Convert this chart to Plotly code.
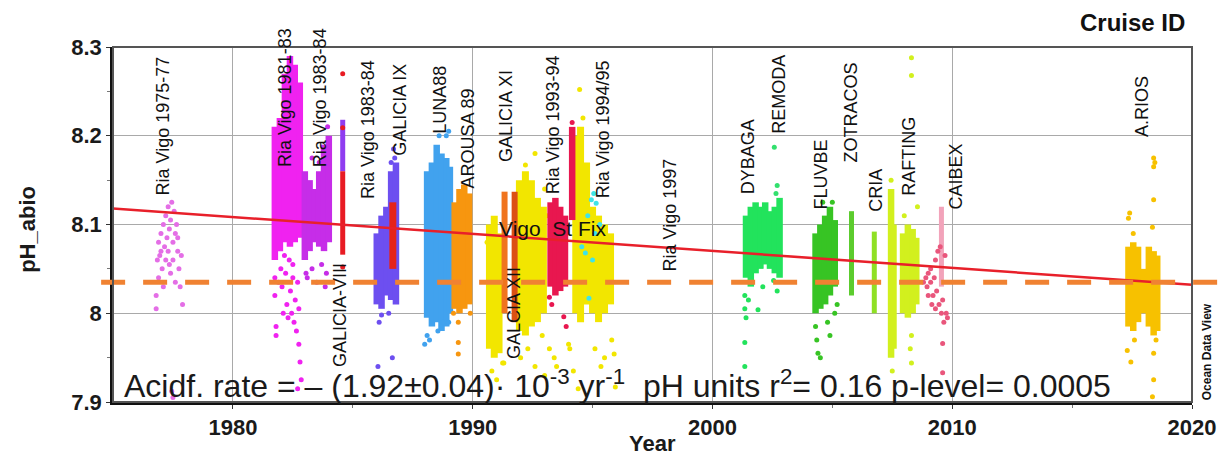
import plotly.graph_objects as go

# ---------------- data (year, pH_abio) ----------------
# Ria Vigo 1975-77
rv7577_px = [1976.8, 1976.8, 1976.85, 1976.9, 1976.9, 1977.0, 1977.0, 1977.05, 1977.1, 1977.1,
             1977.2, 1977.2, 1977.25, 1977.3, 1977.3, 1977.35, 1977.4, 1977.4, 1977.45, 1977.5,
             1977.5, 1977.55, 1977.6, 1977.6, 1977.65, 1977.7, 1977.75, 1977.8, 1977.85, 1977.9,
             1977.5, 1977.45, 1977.15, 1977.35, 1977.7, 1976.95]
rv7577_py = [8.02, 8.005, 8.06, 8.08, 8.04, 8.09, 8.07, 8.05, 8.10, 8.03,
             8.11, 8.06, 8.085, 8.12, 8.07, 8.095, 8.105, 8.045, 8.125, 8.08,
             8.06, 8.115, 8.09, 8.035, 8.10, 8.07, 8.05, 8.03, 8.065, 8.01,
             7.905, 7.912, 8.075, 8.055, 8.085, 8.065]

# Ria Vigo 1981-83
rv8183_cx = [1981.75, 1981.96, 1982.17, 1982.38, 1982.58, 1982.79]
rv8183_lo = [8.06, 8.07, 8.08, 8.075, 8.08, 8.085]
rv8183_hi = [8.21, 8.22, 8.27, 8.29, 8.28, 8.26]
rv8183_px = [1981.75, 1981.75, 1981.8, 1981.8, 1982.0, 1982.05, 1982.1, 1982.2, 1982.25, 1982.3,
             1982.35, 1982.4, 1982.45, 1982.5, 1982.55, 1982.6, 1982.7, 1982.75, 1982.75, 1982.8,
             1982.85, 1982.7, 1982.3, 1982.6, 1981.9, 1982.15, 1982.5, 1982.65]
rv8183_py = [8.04, 8.02, 7.985, 7.975, 8.05, 8.03, 8.0, 8.045, 8.01, 7.995,
             8.06, 8.025, 8.0, 8.04, 7.99, 8.015, 8.035, 8.005, 7.965, 7.945,
             7.925, 7.915, 8.245, 8.235, 8.035, 8.065, 8.055, 7.98]

# Ria Vigo 1983-84 (a)
rv8384a_cx = [1983.0, 1983.2, 1983.4, 1983.6, 1983.8, 1984.0]
rv8384a_lo = [8.06, 8.07, 8.08, 8.075, 8.07, 8.08]
rv8384a_hi = [8.16, 8.15, 8.14, 8.16, 8.19, 8.20]
rv8384a_px = [1983.1, 1983.3, 1983.5, 1983.7, 1983.9, 1983.95, 1983.3, 1983.6, 1983.05, 1983.85]
rv8384a_py = [8.04, 8.05, 8.035, 8.055, 8.045, 8.21, 8.175, 8.17, 8.045, 8.03]

# GALICIA-VIII
g8_cx = [1984.58]
g8_top_lo = [8.16]
g8_top_hi = [8.218]
g8_lo = [8.066]
g8_hi = [8.16]
g8_px = [1984.58, 1984.58, 1984.58]
g8_py = [8.27, 8.209, 8.052]

# Ria Vigo 1983-84 (b)
rv8384b_cx = [1986.0, 1986.2, 1986.4, 1986.6, 1986.8]
rv8384b_lo = [8.01, 8.005, 8.02, 8.015, 8.01]
rv8384b_hi = [8.09, 8.11, 8.12, 8.16, 8.17]
rv8384b_px = [1986.1, 1986.05, 1986.65, 1986.7, 1986.6, 1986.75, 1986.2, 1986.5]
rv8384b_py = [7.99, 7.94, 7.95, 8.185, 8.17, 8.175, 7.998, 8.0]

# GALICIA IX
g9_cx = [1986.67]
g9_lo = [8.05]
g9_hi = [8.125]

# LUNA88
luna_cx = [1988.1, 1988.3, 1988.5, 1988.7, 1988.9, 1989.05]
luna_lo = [7.995, 7.985, 7.99, 7.98, 7.985, 8.0]
luna_hi = [8.16, 8.17, 8.19, 8.18, 8.175, 8.165]
luna_px = [1988.1, 1988.2, 1988.0, 1988.55, 1989.0, 1988.9, 1989.0, 1988.6, 1988.75]
luna_py = [7.975, 7.97, 7.965, 7.98, 7.99, 8.2, 8.205, 8.2, 7.99]

# AROUSA 89
arousa_cx = [1989.25, 1989.45, 1989.65, 1989.85]
arousa_lo = [8.005, 8.0, 8.005, 8.01]
arousa_hi = [8.125, 8.14, 8.145, 8.135]
arousa_px = [1989.4, 1989.4, 1989.4, 1989.2, 1989.9]
arousa_py = [7.99, 7.967, 7.954, 8.0, 8.0]

# Vigo St Fix
stfix_cx = [1990.7, 1990.9, 1991.1, 1991.95, 1992.2, 1992.45, 1992.7, 1992.95,
            1994.3, 1994.5, 1994.75, 1995.0, 1995.25, 1995.5, 1995.75]
stfix_lo = [7.96, 7.95, 7.955, 7.98, 7.975, 7.985, 7.99, 8.0,
            8.0, 7.99, 8.01, 8.0, 7.99, 8.0, 8.01]
stfix_hi = [8.10, 8.11, 8.09, 8.15, 8.16, 8.15, 8.13, 8.12,
            8.20, 8.21, 8.17, 8.12, 8.11, 8.10, 8.09]
stfix_px = [1990.8, 1991.0, 1991.3, 1992.0, 1992.3, 1992.6, 1993.0, 1993.1, 1993.0, 1994.0,
            1994.2, 1994.4, 1995.1, 1995.5, 1995.8, 1995.9, 1994.46, 1994.6, 1992.6, 1992.2,
            1993.6, 1991.25, 1993.2, 1993.5, 1994.05, 1995.35, 1995.95, 1993.4, 1992.9, 1990.6]
stfix_py = [7.935, 7.925, 7.944, 7.95, 7.96, 7.94, 7.93, 8.11, 8.14, 7.965,
            7.935, 7.915, 7.96, 7.95, 7.97, 7.954, 8.252, 8.22, 8.18, 8.167,
            8.07, 7.944, 7.96, 7.94, 7.96, 7.94, 7.917, 7.95, 7.975, 8.08]

# GALICIA XI / GALCIA XII
g11_cx = [1991.33]
g11_lo = [8.0]
g11_hi = [8.137]
g12_cx = [1991.75]
g12_lo = [7.99]
g12_hi = [8.137]

# Ria Vigo 1993-94
rv9394_cx = [1993.25, 1993.45, 1993.65, 1993.85, 1994.15]
rv9394_lo = [8.03, 8.02, 8.025, 8.03, 8.105]
rv9394_hi = [8.125, 8.13, 8.12, 8.11, 8.21]
rv9394_px = [1993.2, 1993.3, 1993.8, 1993.9, 1994.15]
rv9394_py = [8.018, 8.01, 7.996, 7.985, 8.215]

# Ria Vigo 1994/95
rv9495_px = [1994.95, 1995.15, 1995.05, 1994.7, 1995.0, 1994.85, 1994.55, 1995.1, 1995.3, 1994.8]
rv9495_py = [8.128, 8.124, 8.135, 8.068, 8.06, 8.017, 8.075, 8.09, 8.10, 8.11]

# DYBAGA
dyb_cx = [2001.4, 2001.6, 2001.8, 2002.0, 2002.2, 2002.4, 2002.6, 2002.8]
dyb_lo = [8.04, 8.03, 8.045, 8.05, 8.055, 8.05, 8.045, 8.04]
dyb_hi = [8.11, 8.12, 8.125, 8.12, 8.125, 8.115, 8.12, 8.13]
dyb_px = [2001.35, 2001.35, 2001.4, 2001.35, 2001.35, 2001.9, 2002.55, 2001.5, 2002.1, 2002.7]
dyb_py = [8.02, 8.005, 7.995, 7.967, 7.94, 8.004, 8.037, 8.015, 8.03, 8.025]

# REMODA
rem_px = [2002.58, 2002.7, 2002.65]
rem_py = [8.187, 8.144, 8.135]

# FLUVBE
flu_cx = [2004.3, 2004.5, 2004.7, 2004.9, 2005.1]
flu_lo = [8.0, 8.005, 8.01, 8.02, 8.03]
flu_hi = [8.09, 8.10, 8.11, 8.12, 8.105]
flu_px = [2004.3, 2004.35, 2004.4, 2004.5, 2004.8, 2004.9, 2005.1, 2005.2, 2005.0, 2004.6]
flu_py = [7.985, 7.97, 7.955, 7.95, 7.99, 7.975, 8.0, 8.01, 8.125, 8.125]

# ZOTRACOS
zot_cx = [2005.8]
zot_lo = [8.02]
zot_hi = [8.115]

# CRIA
cria_cx = [2006.75]
cria_lo = [8.0]
cria_hi = [8.092]

# RAFTING
raf_cx = [2007.45, 2007.55, 2007.95, 2008.15, 2008.35, 2008.5]
raf_lo = [7.95, 7.96, 8.0, 7.995, 8.0, 8.01]
raf_hi = [8.14, 8.10, 8.09, 8.10, 8.095, 8.085]
raf_px = [2008.3, 2008.3, 2008.55, 2008.3, 2008.25, 2008.3, 2008.0, 2007.5, 2007.45]
raf_py = [8.288, 8.268, 8.12, 7.975, 7.96, 7.944, 8.11, 7.935, 8.15]

# CAIBEX
cai_px = [2008.8, 2008.9, 2008.95, 2009.0, 2009.1, 2009.1, 2009.2, 2009.25, 2009.3, 2009.35,
          2009.4, 2009.45, 2009.5, 2009.55, 2009.6, 2009.65, 2009.7, 2009.75, 2009.8, 2009.6,
          2009.6, 2009.3, 2009.0, 2009.15]
cai_py = [8.035, 8.04, 8.03, 8.045, 8.05, 8.035, 8.02, 8.04, 8.06, 8.025,
          8.07, 8.01, 8.075, 8.0, 8.015, 7.99, 8.065, 8.0, 7.995, 7.966,
          7.933, 8.005, 8.02, 8.01]
cai_cx = [2009.55]
cai_lo = [8.03]
cai_hi = [8.12]

# A.RIOS
arios_cx = [2017.35, 2017.55, 2017.75, 2017.95, 2018.2, 2018.4, 2018.55]
arios_lo = [7.985, 7.98, 7.99, 8.0, 7.985, 7.975, 7.98]
arios_hi = [8.075, 8.08, 8.075, 8.05, 8.075, 8.07, 8.065]
arios_px = [2018.4, 2018.45, 2018.4, 2018.4, 2018.35, 2017.4, 2017.35, 2017.55, 2017.3, 2017.45,
            2018.4, 2018.4, 2018.35, 2017.6, 2018.5]
arios_py = [8.175, 8.17, 8.165, 8.128, 8.097, 8.113, 8.107, 8.09, 7.958, 7.945,
            7.955, 7.925, 7.906, 7.97, 7.97]

# regression & reference level
reg_x = [1975, 2020]
reg_y = [8.118, 8.032]
ref_level = 8.035

# cruise labels
cruise_names = ["Ria Vigo 1975-77", "Ria Vigo 1981-83", "Ria Vigo 1983-84", "GALICIA-VIII",
                "Ria Vigo 1983-84", "GALICIA IX", "LUNA88", "AROUSA 89", "GALICIA XI",
                "GALCIA XII", "Ria Vigo 1993-94", "Ria Vigo 1994/95", "Ria Vigo 1997",
                "DYBAGA", "REMODA", "FLUVBE", "ZOTRACOS", "CRIA", "RAFTING", "CAIBEX", "A.RIOS"]
label_x = [1977.08, 1982.17, 1983.63, 1984.46, 1985.63, 1986.96, 1988.63, 1989.79, 1991.42,
           1991.75, 1993.33, 1995.42, 1998.21, 2001.46, 2002.79, 2004.54, 2005.79, 2006.83,
           2008.21, 2010.17, 2017.92]
label_y = [8.132, 8.164, 8.164, 7.938, 8.128, 8.176, 8.201, 8.139, 8.169, 7.947, 8.133,
           8.128, 8.046, 8.133, 8.201, 8.116, 8.169, 8.113, 8.131, 8.116, 8.197]

x_ticks = [1980, 1990, 2000, 2010, 2020]
y_ticks = [7.9, 8.0, 8.1, 8.2, 8.3]
y_ticktext = ["7.9", "8", "8.1", "8.2", "8.3"]

# ---------------- figure ----------------
fig = go.Figure()
COLW = 6.5
MS = 5


def add_cols(cx, lo, hi, color, width=COLW):
    xs, ys = [], []
    for x, a, b in zip(cx, lo, hi):
        xs += [x, x, None]
        ys += [a, b, None]
    fig.add_trace(go.Scatter(x=xs, y=ys, mode="lines", line=dict(color=color, width=width),
                             hoverinfo="skip", showlegend=False))


def add_pts(px, py, color, size=MS):
    fig.add_trace(go.Scatter(x=px, y=py, mode="markers",
                             marker=dict(color=color, size=size, line=dict(width=0)),
                             showlegend=False))


add_pts(rv7577_px, rv7577_py, "#e46ee6")
add_cols(rv8183_cx, rv8183_lo, rv8183_hi, "#f022f0")
add_pts(rv8183_px, rv8183_py, "#f022f0")
add_cols(rv8384a_cx, rv8384a_lo, rv8384a_hi, "#c62de8")
add_pts(rv8384a_px, rv8384a_py, "#c62de8")
add_cols(g8_cx, g8_top_lo, g8_top_hi, "#8f3cf0", 5)
add_cols(g8_cx, g8_lo, g8_hi, "#e81b23", 5)
add_pts(g8_px, g8_py, "#e81b23")
add_cols(rv8384b_cx, rv8384b_lo, rv8384b_hi, "#6d4ff0")
add_pts(rv8384b_px, rv8384b_py, "#6d4ff0")
add_cols(g9_cx, g9_lo, g9_hi, "#e5231b", 7)
add_cols(luna_cx, luna_lo, luna_hi, "#41a2ee")
add_pts(luna_px, luna_py, "#41a2ee")
add_cols(arousa_cx, arousa_lo, arousa_hi, "#f7960f")
add_pts(arousa_px, arousa_py, "#f7960f")
add_cols(stfix_cx, stfix_lo, stfix_hi, "#f2e600", 7)
add_pts(stfix_px, stfix_py, "#f2e600")
add_cols(g11_cx, g11_lo, g11_hi, "#f0741e", 6)
add_cols(g12_cx, g12_lo, g12_hi, "#dc5014", 6)
add_cols(rv9394_cx, rv9394_lo, rv9394_hi, "#e8174f")
add_pts(rv9394_px, rv9394_py, "#e8174f")
add_pts(rv9495_px, rv9495_py, "#3fe3e8")
add_cols(dyb_cx, dyb_lo, dyb_hi, "#22e35c")
add_pts(dyb_px, dyb_py, "#22e35c")
add_pts(rem_px, rem_py, "#33e06e")
add_cols(flu_cx, flu_lo, flu_hi, "#37c424")
add_pts(flu_px, flu_py, "#37c424")
add_cols(zot_cx, zot_lo, zot_hi, "#5ccc2e", 5)
add_cols(cria_cx, cria_lo, cria_hi, "#8fe024", 5)
add_cols(raf_cx, raf_lo, raf_hi, "#d2f01e")
add_pts(raf_px, raf_py, "#d2f01e")
add_cols(cai_cx, cai_lo, cai_hi, "#f2a3ba", 5)
add_pts(cai_px, cai_py, "#e9567c")
add_cols(arios_cx, arios_lo, arios_hi, "#f7c100")
add_pts(arios_px, arios_py, "#f7c100")

# regression line
fig.add_trace(go.Scatter(x=reg_x, y=reg_y, mode="lines", line=dict(color="#e8202a", width=2.5),
                         showlegend=False))

# dashed reference level (extends beyond the frame)
fig.add_shape(type="line", xref="paper", yref="y", x0=-0.011, x1=1.04, y0=ref_level, y1=ref_level,
              line=dict(color="#f08232", width=5, dash="24px,18px"), layer="above")

# frame (top/right gray)
fig.add_shape(type="rect", xref="paper", yref="paper", x0=0, x1=1, y0=0, y1=1,
              line=dict(color="#555555", width=2), layer="above")

LABEL_FONT = dict(family="Liberation Sans, Arial", size=18, color="#111111")
for name, lx, ly in zip(cruise_names, label_x, label_y):
    fig.add_annotation(x=lx, y=ly, xref="x", yref="y", text=name, textangle=-90, showarrow=False,
                       xanchor="center", yanchor="bottom", font=LABEL_FONT, borderpad=0)

fig.add_annotation(x=1993.35, y=8.096, xref="x", yref="y", text="Vigo\u00a0\u00a0St\u00a0Fix", showarrow=False,
                   xanchor="center", yanchor="middle",
                   font=dict(family="Liberation Sans, Arial", size=21, color="#111111"))

fig.add_annotation(xref="paper", yref="paper", x=0.008, y=0.05, xanchor="left", yanchor="middle",
                   text="Acidf. rate = \u2013 (1.92\u00b10.04)\u00b7 10<sup>-3</sup> yr<sup>-1</sup>\u00a0\u00a0pH units r<sup>2</sup>= 0.16 p-level= 0.0005",
                   showarrow=False, font=dict(family="Liberation Sans, Arial", size=32, color="#1a1a1a"))

fig.add_annotation(xref="paper", yref="paper", x=0.995, y=1.0, yshift=25, xanchor="right", yanchor="middle",
                   text="<b>Cruise ID</b>", showarrow=False,
                   font=dict(family="Liberation Sans, Arial", size=24, color="#111111"))

fig.add_annotation(xref="paper", yref="paper", x=1.0, xshift=15, y=0.14, xanchor="center", yanchor="middle",
                   text="<b>Ocean Data View</b>", textangle=-90, showarrow=False,
                   font=dict(family="Liberation Sans, Arial", size=12, color="#111111"))

AX_FONT = dict(family="Liberation Sans, Arial", size=22, color="#1a1a1a")

# axis titles as annotations (fixed positions)
fig.add_annotation(xref="paper", yref="paper", x=0.5, y=0, yshift=-41, xanchor="center", yanchor="middle",
                   text="<b>Year</b>", showarrow=False, font=AX_FONT)
fig.add_annotation(xref="paper", yref="paper", x=0, xshift=-85, y=0.485, xanchor="center", yanchor="middle",
                   text="<b>pH_abio</b>", textangle=-90, showarrow=False, font=AX_FONT)

fig.update_layout(
    width=1230, height=456,
    margin=dict(l=113, r=38, t=47, b=54, autoexpand=False),
    paper_bgcolor="white", plot_bgcolor="white",
    xaxis=dict(range=[1975, 2020], tickvals=x_ticks, ticktext=[f"<b>{v}</b>" for v in x_ticks],
               showgrid=True, gridcolor="#a9a9a9", gridwidth=1, zeroline=False, automargin=False,
               showline=True, linecolor="#111111", linewidth=2.5,
               ticks="outside", ticklen=4, tickcolor="#333333", tickfont=AX_FONT,
               minor=dict(tickvals=[1985, 1995, 2005, 2015], ticks="outside", ticklen=3, tickcolor="#777777", showgrid=False)),
    yaxis=dict(range=[7.9, 8.3], tickvals=y_ticks, ticktext=[f"<b>{t}</b>" for t in y_ticktext],
               showgrid=True, gridcolor="#a9a9a9", gridwidth=1, zeroline=False, automargin=False,
               showline=True, linecolor="#111111", linewidth=2.5,
               ticks="outside", ticklen=4, tickcolor="#333333", tickfont=AX_FONT,
               minor=dict(tickvals=[7.95, 8.05, 8.15, 8.25], ticks="outside", ticklen=3, tickcolor="#777777", showgrid=False)),
)

fig.write_html("out.html")
